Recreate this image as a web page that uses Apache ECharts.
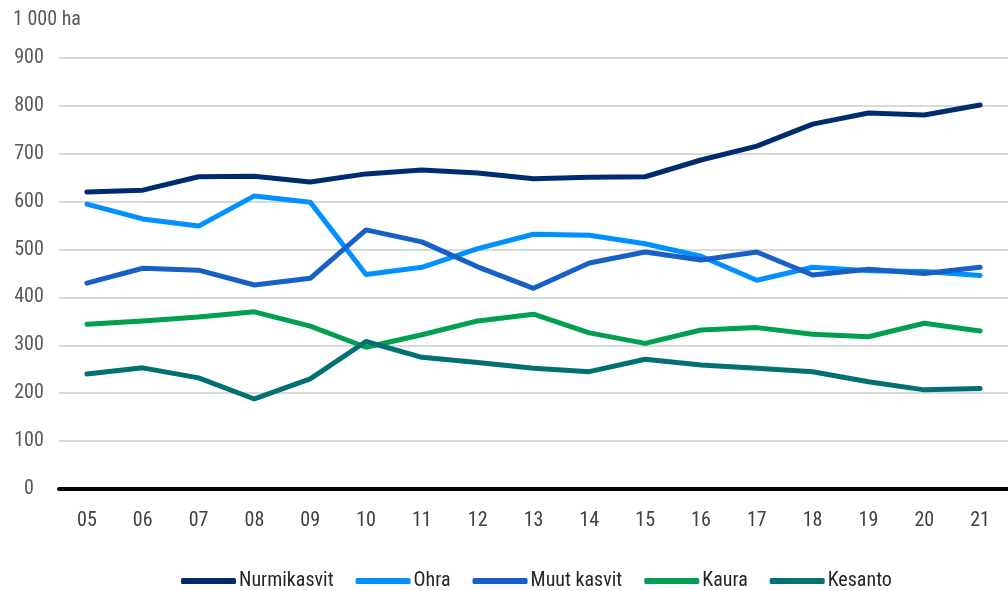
<!DOCTYPE html>
<html><head><meta charset="utf-8">
<script src="https://cdn.jsdelivr.net/npm/echarts@6/dist/echarts.min.js"></script>
<style>html,body{margin:0;padding:0;background:#fff}#c{width:1008px;height:591px}</style>
</head><body><div id="c"></div>
<script>
const years = ['05','06','07','08','09','10','11','12','13','14','15','16','17','18','19','20','21'];
const nurmikasvit = [620,624,652,653,641,658,666,660,648,651,652,687,716,762,785,781,802];
const ohra = [595,564,549,612,599,448,463,502,532,530,512,486,436,463,456,454,446];
const muutKasvit = [430,461,457,426,440,541,516,464,419,472,495,478,495,447,459,450,463];
const kaura = [344,351,359,370,340,296,322,351,365,326,304,332,337,323,318,346,330];
const kesanto = [240,253,232,188,230,308,275,264,252,245,271,259,252,245,224,207,210];
const seriesNames = ['Nurmikasvit','Ohra','Muut kasvit','Kaura','Kesanto'];
const colors = ['#002b6f','#0090ff','#1660c8','#00a050','#007070'];
const FONT = '"Roboto Condensed","Liberation Sans",sans-serif';
const data = [nurmikasvit, ohra, muutKasvit, kaura, kesanto];

const chart = echarts.init(document.getElementById('c'));
chart.setOption({
  animation: false,
  textStyle: {fontFamily: FONT},
  grid: {left: 59, top: 58, width: 954, height: 431, containLabel: false},
  title: {text: '1 000 ha', left: 8, top: 5, textStyle: {fontFamily: FONT, fontSize: 20, fontWeight: 'normal', color: '#595959'}},
  legend: {
    top: 566, left: 176, itemWidth: 55, itemHeight: 6, itemGap: 22, icon: 'roundRect',
    textStyle: {fontFamily: FONT, fontSize: 20, color: '#262626', padding: [0,0,0,-2]},
    data: seriesNames
  },
  xAxis: {
    type: 'category', data: years, boundaryGap: true,
    axisLine: {show: true, lineStyle: {color: '#000', width: 4}},
    axisTick: {show: false},
    axisLabel: {fontFamily: FONT, fontSize: 20, color: '#404040', margin: 22}
  },
  yAxis: {
    type: 'value', min: 0, max: 900, interval: 100,
    axisLine: {show: false}, axisTick: {show: false},
    axisLabel: {fontFamily: FONT, fontSize: 20, color: '#595959', align: 'center', margin: 30},
    splitLine: {lineStyle: {color: '#d9d9d9', width: 2}}
  },
  series: seriesNames.map((n, i) => ({
    name: n, type: 'line', data: data[i], symbol: 'none', color: colors[i],
    lineStyle: {width: 5, color: colors[i], cap: 'round', join: 'round'}
  }))
});
</script></body></html>
